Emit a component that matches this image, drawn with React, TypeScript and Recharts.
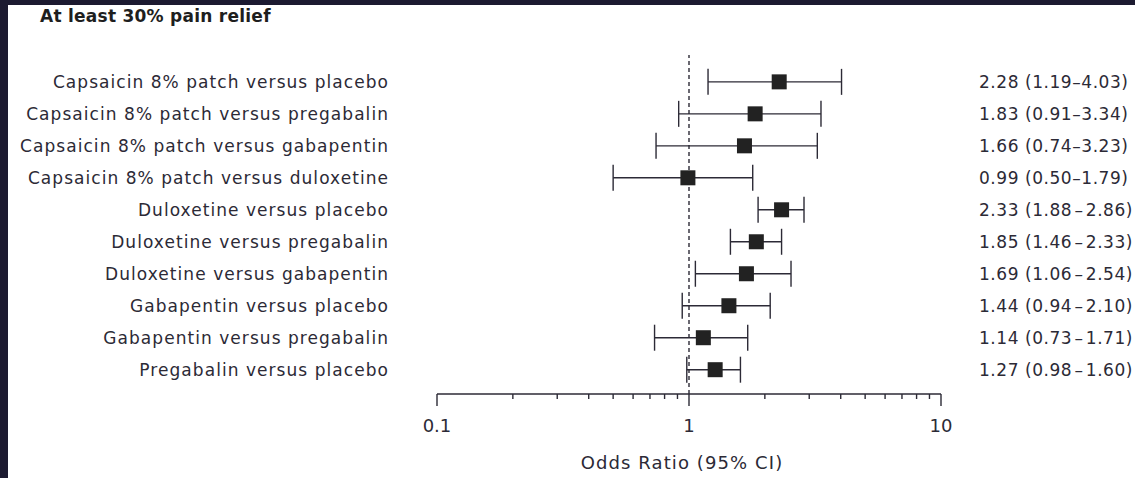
import React from "react";
import {
  ScatterChart,
  Scatter,
  XAxis,
  YAxis,
  ErrorBar,
  ReferenceLine,
} from "recharts";

const comparisons = [
  "Capsaicin 8% patch versus placebo",
  "Capsaicin 8% patch versus pregabalin",
  "Capsaicin 8% patch versus gabapentin",
  "Capsaicin 8% patch versus duloxetine",
  "Duloxetine versus placebo",
  "Duloxetine versus pregabalin",
  "Duloxetine versus gabapentin",
  "Gabapentin versus placebo",
  "Gabapentin versus pregabalin",
  "Pregabalin versus placebo",
];
const oddsRatio = [2.28, 1.83, 1.66, 0.99, 2.33, 1.85, 1.69, 1.44, 1.14, 1.27];
const ciLow = [1.19, 0.91, 0.74, 0.5, 1.88, 1.46, 1.06, 0.94, 0.73, 0.98];
const ciHigh = [4.03, 3.34, 3.23, 1.79, 2.86, 2.33, 2.54, 2.1, 1.71, 1.6];
const ciLabels = [
  "2.28 (1.19–4.03)",
  "1.83 (0.91–3.34)",
  "1.66 (0.74–3.23)",
  "0.99 (0.50–1.79)",
  "2.33 (1.88\u200a–\u200a2.86)",
  "1.85 (1.46\u200a–\u200a2.33)",
  "1.69 (1.06\u200a–\u200a2.54)",
  "1.44 (0.94\u200a–\u200a2.10)",
  "1.14 (0.73\u200a–\u200a1.71)",
  "1.27 (0.98\u200a–\u200a1.60)",
];
const xTicks = [
  0.1, 0.2, 0.3, 0.4, 0.5, 0.6, 0.7, 0.8, 0.9, 1, 2, 3, 4, 5, 6, 7, 8, 9, 10,
];
const majorTicks = [0.1, 1, 10];

const rows = comparisons.map((name, i) => ({
  idx: i,
  name,
  or: oddsRatio[i],
  err: [oddsRatio[i] - ciLow[i], ciHigh[i] - oddsRatio[i]],
}));

const FONT = "'DejaVu Sans', sans-serif";
const INK = "#2c2a36";

const XTick = (props: any) => {
  const { x, y, payload } = props;
  const major = majorTicks.includes(payload.value);
  return (
    <g>
      <line x1={x} x2={x} y1={y} y2={y + (major ? 12 : 5)} stroke={INK} strokeWidth={1.4} />
      {major && (
        <text x={x} y={y + 38} textAnchor="middle" fontSize={18} fill={INK} fontFamily={FONT}>
          {payload.value}
        </text>
      )}
    </g>
  );
};

// left label plus the OR (95% CI) text in the right column
const RowTick = (props: any) => {
  const { x, y, payload } = props;
  const i = payload.value;
  return (
    <g fontFamily={FONT} fontSize={17} fill={INK}>
      <text x={x + 1} y={y} dy={6} textAnchor="end" letterSpacing={1.05}>
        {comparisons[i]}
      </text>
      <text x={979} y={y} dy={6} textAnchor="start" letterSpacing={0.55}>
        {ciLabels[i]}
      </text>
    </g>
  );
};

const Square = (props: any) => {
  const { cx, cy } = props;
  return <rect x={cx - 7.5} y={cy - 7.5} width={15} height={15} fill="#222" />;
};

const AxisTitle = (props: any) => {
  const { viewBox } = props;
  return (
    <text
      x={viewBox.x + viewBox.width / 2 - 7}
      y={viewBox.y + viewBox.height - 9}
      textAnchor="middle"
      fontSize={18}
      letterSpacing={1.1}
      fill={INK}
      fontFamily={FONT}
    >
      Odds Ratio (95% CI)
    </text>
  );
};

export default function App() {
  return (
    <div style={{ position: "fixed", left: 0, top: 0, width: 1135, height: 478, background: "#1c1a30" }}>
      <div style={{ position: "absolute", left: 8, top: 5, width: 1127, height: 473, background: "#fff" }} />
      <div
        style={{
          position: "absolute",
          left: 40,
          top: 6,
          fontFamily: FONT,
          fontWeight: 700,
          fontSize: 17,
          letterSpacing: 0.25,
          color: "#1e1e1e",
        }}
      >
        At least 30% pain relief
      </div>
      <div style={{ position: "absolute", left: 0, top: 0 }}>
        <ScatterChart width={1135} height={478} margin={{ top: 55, right: 194, bottom: 0, left: 0 }}>
          <XAxis
            type="number"
            dataKey="or"
            scale="log"
            domain={[0.1, 10]}
            ticks={xTicks}
            interval={0}
            allowDataOverflow
            tickSize={0}
            tickMargin={0}
            tickLine={false}
            tick={<XTick />}
            axisLine={{ stroke: INK, strokeWidth: 1.4 }}
            height={84}
            label={<AxisTitle />}
          />
          <YAxis
            type="number"
            dataKey="idx"
            domain={[-0.84, 9.76]}
            reversed
            ticks={[0, 1, 2, 3, 4, 5, 6, 7, 8, 9]}
            interval={0}
            width={437}
            tickLine={false}
            tickSize={0}
            axisLine={false}
            tickMargin={49}
            tick={<RowTick />}
          />
          <ReferenceLine x={1} stroke={INK} strokeWidth={1.4} strokeDasharray="4 3" />
          <Scatter data={rows} shape={<Square />} isAnimationActive={false}>
            <ErrorBar dataKey="err" direction="x" width={13} stroke={INK} strokeWidth={1.4} />
          </Scatter>
        </ScatterChart>
      </div>
    </div>
  );
}
